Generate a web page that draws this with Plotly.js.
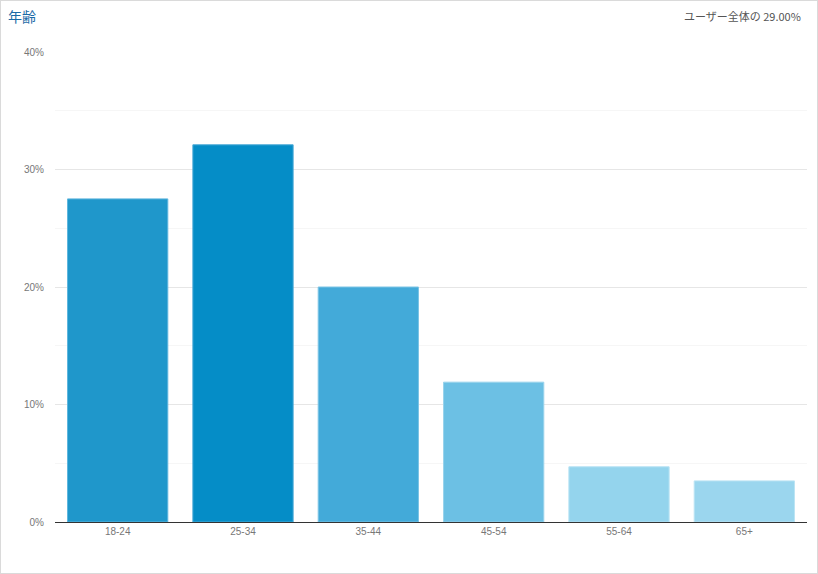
<!DOCTYPE html>
<html>
<head>
<meta charset="utf-8">
<script src="https://cdn.plot.ly/plotly-3.0.1.min.js"></script>
<style>
html,body{margin:0;padding:0;background:#fff;}
#wrap{width:818px;height:574px;box-sizing:border-box;border:1px solid #dadada;}
#chart{width:816px;height:572px;}
</style>
</head>
<body>
<div id="wrap"><div id="chart"></div></div>
<script>
const categories = ['18-24','25-34','35-44','45-54','55-64','65+'];
const values = [27.5, 32.1, 20.0, 11.9, 4.7, 3.5];
const barColors = ['#1f97cb','#058dc7','#43aad9','#6cc0e4','#94d4ed','#9bd6ee'];
const borderColors = ['#5fb6de','#4aaad6','#7cc4e5','#9ad3ec','#b8e3f4','#bce4f4'];
const yTicks = [0,10,20,30,40];
const yTickText = ['0%','10%','20%','30%','40%'];
const chartTitle = '年齢';
const noteText = 'ユーザー全体の 29.00%';

const font = "'Liberation Sans', Arial, 'Noto Sans CJK JP', sans-serif";

const trace = {
  type:'bar', x:categories, y:values,
  marker:{color:barColors, line:{color:borderColors, width:1}},
  hoverinfo:'x+y'
};

const layout = {
  width:816, height:572,
  margin:{l:54, r:10, t:51, b:51},
  paper_bgcolor:'#fff', plot_bgcolor:'#fff',
  font:{family:font, color:'#777', size:10},
  bargap:0.2,
  showlegend:false,
  title:{text:chartTitle, xref:'container', yref:'container', x:7/816, xanchor:'left', y:1-16/572, yanchor:'middle',
         font:{family:"'Noto Sans CJK JP', sans-serif", size:14, color:'#1a6aa7'}},
  xaxis:{type:'category', showline:true, linecolor:'#333', linewidth:1, showgrid:false, zeroline:false,
         ticks:'', tickfont:{size:10, color:'#777'}, fixedrange:true},
  yaxis:{range:[0,40], tickvals:yTicks, ticktext:yTickText, showgrid:true, gridcolor:'#e6e6e6', gridwidth:1,
         zeroline:false, showline:false, ticks:'', ticklabelstandoff:10, tickfont:{size:10, color:'#777'},
         minor:{dtick:5, showgrid:true, gridcolor:'#f6f6f6', gridwidth:1}, fixedrange:true},
  annotations:[{text:noteText, xref:'paper', yref:'paper', x:1, y:1, xanchor:'right', yanchor:'middle',
                xshift:-4, yshift:36, showarrow:false,
                font:{family:"'Noto Sans CJK JP', sans-serif", size:11, color:'#555'}}]
};

Plotly.newPlot('chart', [trace], layout, {displayModeBar:false, staticPlot:false});
</script>
</body>
</html>
